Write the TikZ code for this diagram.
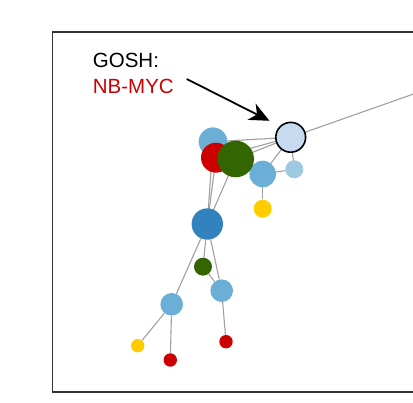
\documentclass[tikz,border=0pt]{standalone}
\usepackage{fontspec}
\setmainfont{Liberation Sans}
\usetikzlibrary{arrows.meta,backgrounds}
\definecolor{cpale}{HTML}{C6DBEF}
\definecolor{cmid}{HTML}{6BAED6}
\definecolor{clight}{HTML}{9ECAE1}
\definecolor{cdark}{HTML}{3182BD}
\definecolor{cred}{HTML}{CC0000}
\definecolor{cgreen}{HTML}{336600}
\definecolor{cyel}{HTML}{FFCC00}
\definecolor{cedge}{HTML}{A0A0A0}
\definecolor{cframe}{HTML}{333333}
\tikzset{
  dot/.style args={#1/#2}{circle, fill=#1, draw=none, inner sep=0pt, minimum size=#2pt},
  edge/.style={draw=cedge, line width=1.1pt},
  lbl/.style={font=\fontsize{20.5}{24}\selectfont, inner sep=0pt, anchor=base west},
}
\begin{document}
\begin{tikzpicture}[x=1pt,y=-1pt]
\useasboundingbox (0,0) rectangle (413,403);
\clip (0,0) rectangle (413,403);
\draw[cframe, line width=1.3pt] (52.5,32) rectangle (430,392);
% nodes
\node[dot=cmid/28.6] (tlb) at (213,141.7) {};
\node[dot=cred/30] (red) at (216,157.7) {};
\node[dot=cmid/26.6] (mb) at (262.7,174) {};
\node[dot=cgreen/36.6] (grn) at (235.7,159) {};
\node[dot=clight/18] (pb) at (294.3,169.3) {};
\node[dot=cyel/18] (y1) at (262.7,208.7) {};
\node[dot=cdark/31.4] (db) at (207.3,224) {};
\node[dot=cgreen/18] (sg) at (203,266.7) {};
\node[dot=cmid/22.6] (brl) at (221.7,290.7) {};
\node[dot=cmid/22.6] (bll) at (171.7,304.3) {};
\node[dot=cyel/13.4] (y2) at (137.7,345.7) {};
\node[dot=cred/13.4] (r2) at (170.3,360) {};
\node[dot=cred/13.4] (r3) at (226,341.7) {};
\node[circle, fill=cpale, draw=black, line width=1.6pt, inner sep=0pt, minimum size=29.8pt] (gosh) at (290.7,137.3) {};
\coordinate (off) at (430,88.2);
% edges
\begin{scope}[on background layer]
\draw[edge] (gosh.center) -- (off);
\draw[edge] (gosh) -- (tlb.center);
\draw[edge] (gosh) -- (red.center);
\draw[edge] (gosh) -- (grn.center);
\draw[edge] (gosh) -- (mb.center);
\draw[edge] (gosh) -- (pb.center);
\draw[edge] (mb) -- (pb);
\draw[edge] (mb) -- (y1);
\draw[edge] (grn.center) -- (mb.center);
\draw[edge] (db.center) -- (tlb.center);
\draw[edge] (db.center) -- (red.center);
\draw[edge] (db.center) -- (grn.center);
\draw[edge] (db) -- (sg);
\draw[edge] (db) -- (brl);
\draw[edge] (db) -- (bll);
\draw[edge] (sg) -- (brl);
\draw[edge] (bll) -- (y2);
\draw[edge] (bll) -- (r2);
\draw[edge] (brl) -- (r3);
\end{scope}
% labels
\node[lbl] (t1) at (92.7,68) {GOSH:};
\node[lbl, text=cred] (t2) at (92.7,93.3) {NB-MYC};
\coordinate (astart) at (186.7,79);
\coordinate (aend) at (269.5,120.8);
\draw[line width=1.8pt, -{Stealth[length=20pt,width=18pt,inset=6pt]}] (astart) -- (aend);
\end{tikzpicture}
\end{document}
